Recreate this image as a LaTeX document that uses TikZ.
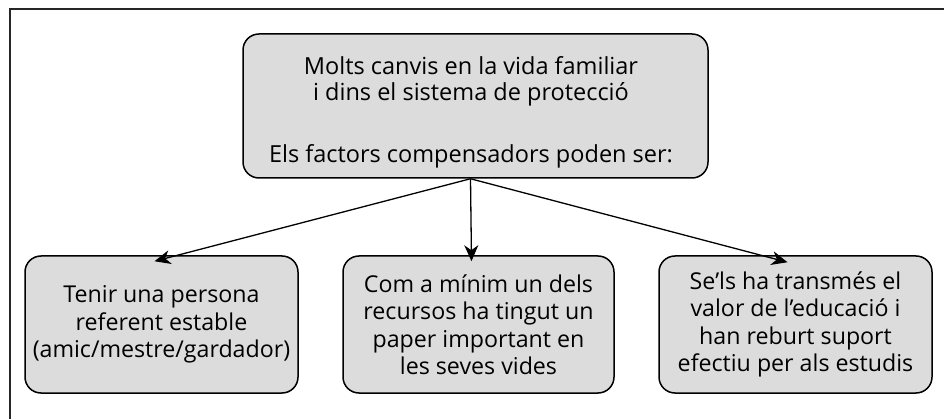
\documentclass[tikz,border=0pt]{standalone}
\usepackage{fontspec}
\setmainfont{Open Sans}
\usetikzlibrary{arrows.meta}
\definecolor{boxgray}{HTML}{DCDCDC}
\tikzset{
  box/.style={draw=black, line width=1.5pt, fill=boxgray, rounded corners=16pt, inner sep=0pt},
  txt/.style={align=center, font=\fontsize{23.2}{27.5}\selectfont, inner sep=0pt},
  toptxt/.style={align=center, font=\fontsize{23.5}{26}\selectfont, inner sep=0pt},
  conn/.style={line width=1.3pt, -{Stealth[length=16pt,width=14pt,inset=5pt]}},
  framel/.style={line width=1.7pt, draw=black!85}
}
\begin{document}
\begin{tikzpicture}[x=1pt,y=-1pt]
\useasboundingbox (0,0) rectangle (944,419);
\coordinate (fbl) at (10,419);
\coordinate (ftl) at (10,9);
\coordinate (ftr) at (944,9);
\draw[framel] (fbl) -- (ftl) -- (ftr);
\node[box, minimum width=465pt, minimum height=144pt] (top) at (475.5,106) {};
\node[toptxt] (toptext) at (471,112) {Molts canvis en la vida familiar\\ i dins el sistema de protecció\\[36pt]Els factors compensadors poden ser:};
\node[box, txt, minimum width=273pt, minimum height=137pt] (b1) at (161.5,324.5) {Tenir una persona\\referent estable\\(amic/mestre/gardador)};
\node[box, txt, minimum width=271pt, minimum height=137pt] (b2) at (478.5,324.5) {Com a mínim un dels\\recursos ha tingut un\\paper important en\\les seves vides};
\node[box, txt, minimum width=273pt, minimum height=137pt] (b3) at (795.5,324.5) {Se’ls ha transmés el\\valor de l’educació i\\han reburt suport\\efectiu per als estudis};
\coordinate (src) at ([xshift=-5pt]top.south);
\draw[conn] (src) -- ([xshift=-7pt,yshift=-6pt]b1.north);
\draw[conn] (src) -- ([xshift=-7pt,yshift=-6pt]b2.north);
\draw[conn] (src) -- ([xshift=-8pt,yshift=-7pt]b3.north);
\end{tikzpicture}
\end{document}
